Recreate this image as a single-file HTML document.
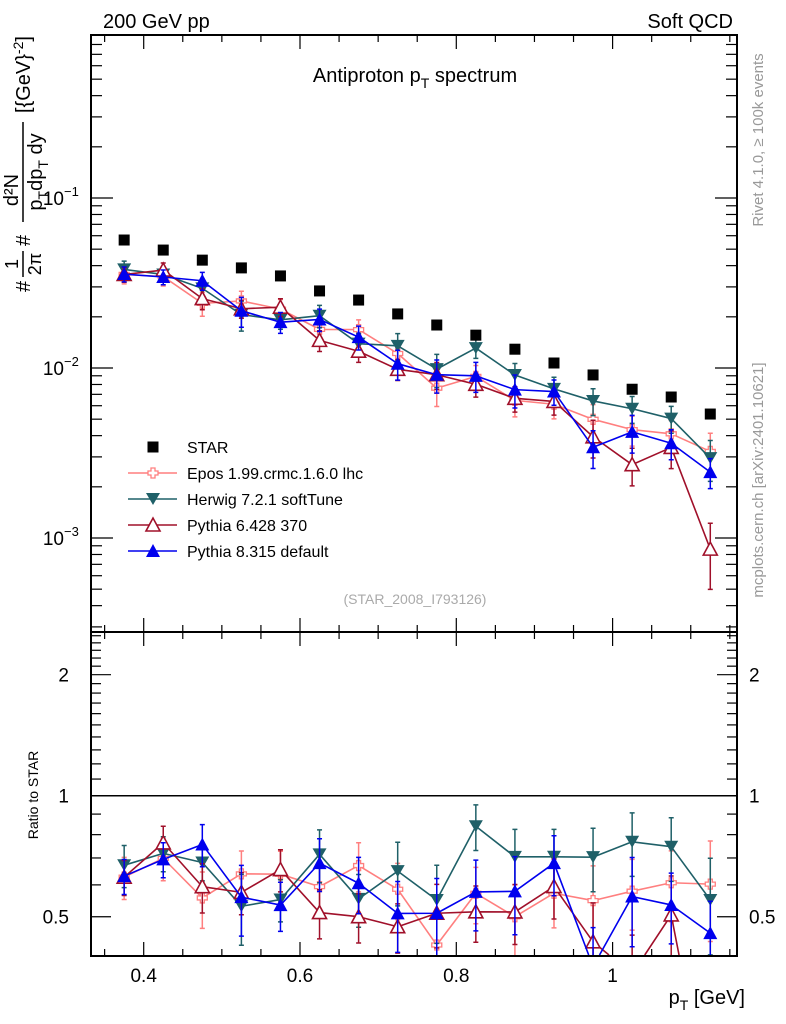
<!DOCTYPE html>
<html><head><meta charset="utf-8"><style>
html,body{margin:0;padding:0;background:#fff;width:786px;height:1024px;overflow:hidden;}
svg{display:block;font-family:"Liberation Sans",sans-serif;}
</style></head><body>
<svg id="chart" width="786" height="1024" viewBox="0 0 786 1024">
<defs>
<clipPath id="clipTop"><rect x="91" y="35" width="646" height="597"/></clipPath>
<clipPath id="clipBot"><rect x="91" y="632" width="646" height="324"/></clipPath>
</defs>
<text x="103" y="28" font-size="20">200 GeV pp</text>
<text x="733" y="28" font-size="20" text-anchor="end">Soft QCD</text>
<text x="415" y="82" font-size="20" text-anchor="middle">Antiproton p<tspan font-size="14" dy="6">T</tspan><tspan dy="-6"> spectrum</tspan></text>
<text transform="translate(763,140) rotate(-90)" font-size="15" fill="#999" text-anchor="middle">Rivet 4.1.0, ≥ 100k events</text>
<text transform="translate(763,480) rotate(-90)" font-size="15" fill="#999" text-anchor="middle">mcplots.cern.ch [arXiv:2401.10621]</text>
<text x="415" y="604" font-size="14" fill="#aaa" text-anchor="middle">(STAR_2008_I793126)</text>
<g font-size="20">
<text transform="translate(30,292) rotate(-90)">#</text>
<text transform="translate(18,264) rotate(-90)" font-size="18" text-anchor="middle">1</text>
<line x1="23" y1="251" x2="23" y2="277" stroke="#000" stroke-width="1.5"/>
<text transform="translate(41,264) rotate(-90)" font-size="18" text-anchor="middle">2π</text>
<text transform="translate(30,246) rotate(-90)">#</text>
<line x1="23" y1="122" x2="23" y2="222" stroke="#000" stroke-width="1.5"/>
<text transform="translate(18,190) rotate(-90)" text-anchor="middle">d²N</text>
<text transform="translate(42,172) rotate(-90)" text-anchor="middle">p<tspan font-size="14" dy="6">T</tspan><tspan dy="-6">dp</tspan><tspan font-size="14" dy="6">T</tspan><tspan dy="-6"> dy</tspan></text>
<text transform="translate(30,113) rotate(-90)">[{GeV}<tspan font-size="14" dy="-7">-2</tspan><tspan dy="7">]</tspan></text>
</g>
<text transform="translate(38,795) rotate(-90)" font-size="14" text-anchor="middle">Ratio to STAR</text>
<text x="745" y="1004" font-size="20" text-anchor="end">p<tspan font-size="14" dy="6">T</tspan><tspan dy="-6"> [GeV]</tspan></text>
<g id="top-marks" clip-path="url(#clipTop)"></g>
<g id="bot-marks" clip-path="url(#clipBot)"></g>
<g id="axes"></g>
<g id="legend"></g>
</svg>
<script>
const ptBins = [0.375,0.425,0.475,0.525,0.575,0.625,0.675,0.725,0.775,0.825,0.875,0.925,0.975,1.025,1.075,1.125];
const starValues = [0.0566,0.0494,0.0431,0.0388,0.0348,0.0284,0.0251,0.0208,0.0179,0.0156,0.0129,0.0107,0.0091,0.0075,0.00675,0.00536];
const eposValues = [0.0355,0.0345,0.0240,0.0248,0.0222,0.01687,0.01682,0.01217,0.00761,0.00892,0.00645,0.00612,0.00499,0.00434,0.0041,0.00323];
const herwigValues = [0.0380,0.0355,0.0294,0.0206,0.0192,0.0203,0.0139,0.0135,0.00985,0.0131,0.00909,0.00754,0.0064,0.00576,0.00504,0.00295];
const pythia6Values = [0.0355,0.0377,0.0256,0.0223,0.0228,0.01454,0.01255,0.00982,0.00913,0.00802,0.00663,0.00636,0.00394,0.0027,0.00341,0.00086];
const pythia8Values = [0.0357,0.0343,0.0326,0.0217,0.0186,0.0193,0.0152,0.0106,0.00913,0.00899,0.00746,0.00727,0.00342,0.00421,0.00361,0.00244];
const eposRelErr = [0.12,0.12,0.16,0.14,0.14,0.12,0.14,0.16,0.22,0.16,0.2,0.18,0.22,0.2,0.2,0.28];
const herwigRelErr = [0.12,0.1,0.1,0.2,0.12,0.15,0.15,0.18,0.22,0.13,0.17,0.17,0.18,0.18,0.18,0.27];
const pythia6RelErr = [0.1,0.1,0.14,0.12,0.12,0.14,0.14,0.14,0.18,0.16,0.17,0.17,0.25,0.25,0.25,0.42];
const pythia8RelErr = [0.1,0.1,0.12,0.2,0.14,0.15,0.16,0.2,0.22,0.2,0.22,0.17,0.25,0.25,0.2,0.2];
const xTickLabels = ["0.4","0.6","0.8","1"];
const xTickValues = [0.4,0.6,0.8,1.0];
const yTopTickLabels = ["10","10","10"];
const yTopTickExps = [-1,-2,-3];
const ratioTickValues = [0.5,1,2];
const ratioTickLabels = ["0.5","1","2"];

const NS="http://www.w3.org/2000/svg";
const X0=143.7, XS=781.5;
const xs = v => X0 + (v-0.4)*XS;
const yTop = v => 198 - (Math.log10(v)+1)*170;
const yRat = r => 795.7 - Math.log10(r)*402;
function mk(tag, attrs, parent){const e=document.createElementNS(NS,tag);for(const k in attrs)e.setAttribute(k,attrs[k]);parent.appendChild(e);return e;}
const topG=document.getElementById('top-marks'), botG=document.getElementById('bot-marks'), axes=document.getElementById('axes'), leg=document.getElementById('legend');

let f1=mk('rect',{x:91,y:35,width:646,height:597,fill:'none',stroke:'#000','stroke-width':2},axes);


let f2=mk('rect',{x:91,y:632,width:646,height:324,fill:'none',stroke:'#000','stroke-width':2},axes);


let one=mk('line',{x1:91,x2:737,y1:yRat(1),y2:yRat(1),stroke:'#000','stroke-width':1.5},axes);



for(let v=0.35;v<=1.16;v+=0.05){
  const vv=Math.round(v*100)/100; const x=xs(vv); if(x<92||x>736)continue;
  const major=Math.abs(vv*10-Math.round(vv*10))<1e-6 && Math.round(vv*10)%2===0;
  const L=major?14:7;
  [[35,1],[632,1],[632,-1],[956,-1]].forEach(([y,d])=>{mk('line',{x1:x,x2:x,y1:y,y2:y+d*L,stroke:'#000','stroke-width':1.2},axes);});
}
xTickValues.forEach((v,i)=>{const t=mk('text',{x:xs(v),y:982,'font-size':19,'text-anchor':'middle'},axes);t.textContent=xTickLabels[i];

});

for(let d=-4;d<=0;d++){for(let k=1;k<=9;k++){const v=k*Math.pow(10,d);const y=yTop(v);if(y<36||y>631)continue;
 const L=k===1?22:11;
 mk('line',{x1:91,x2:91+L,y1:y,y2:y,stroke:'#000','stroke-width':1.2},axes);
 mk('line',{x1:737,x2:737-L,y1:y,y2:y,stroke:'#000','stroke-width':1.2},axes);}}
yTopTickExps.forEach((e,i)=>{const y=yTop(Math.pow(10,e));
 const t=mk('text',{x:64,y:y+7,'font-size':19,'text-anchor':'end'},axes);t.textContent=yTopTickLabels[i];
 
 
 const s=mk('text',{x:64,y:y-2,'font-size':13},axes);s.textContent='−'+(-e);
 
 });

const rt=[];for(let r=0.4;r<1;r+=0.1)rt.push(r);for(let r=1;r<2.6;r+=0.1)rt.push(r);
rt.forEach(r=>{const y=yRat(r);if(y<633||y>955)return;const major=ratioTickValues.some(m=>Math.abs(m-r)<1e-6);const L=major?20:10;
 mk('line',{x1:91,x2:91+L,y1:y,y2:y,stroke:'#000','stroke-width':1.2},axes);
 mk('line',{x1:737,x2:737-L,y1:y,y2:y,stroke:'#000','stroke-width':1.2},axes);});
ratioTickValues.forEach((r,i)=>{const y=yRat(r);
 const t=mk('text',{x:69,y:y+7,'font-size':19,'text-anchor':'end'},axes);t.textContent=ratioTickLabels[i];
 
 
 const t2=mk('text',{x:749,y:y+7,'font-size':19},axes);t2.textContent=ratioTickLabels[i];
 
 });

function marker(kind,color,x,y,parent){
 let e;
 if(kind==='square'){e=mk('rect',{x:x-5.5,y:y-5.5,width:11,height:11,fill:color},parent);}
 else if(kind==='cross'){e=mk('path',{d:`M${x-2},${y-5}h4v3h3v4h-3v3h-4v-3h-3v-4h3z`,fill:'#fff',stroke:color,'stroke-width':1.3},parent);}
 else if(kind==='down'){e=mk('path',{d:`M${x-7},${y-6}L${x+7},${y-6}L${x},${y+6}Z`,fill:color},parent);}
 else if(kind==='upopen'){e=mk('path',{d:`M${x-7},${y+6}L${x+7},${y+6}L${x},${y-7}Z`,fill:'#fff',stroke:color,'stroke-width':1.6},parent);}
 else {e=mk('path',{d:`M${x-7},${y+6}L${x+7},${y+6}L${x},${y-7}Z`,fill:color},parent);}
 return e;
}
// clip a polyline to a y-range, returning path data
function clipPath(pts,ymin,ymax){
 let d='';
 for(let i=0;i<pts.length-1;i++){
  let [x1,y1]=pts[i],[x2,y2]=pts[i+1];
  let t0=0,t1=1;const dy=y2-y1;
  if(dy===0){if(y1<ymin||y1>ymax)continue;}
  else{
   let ta=(ymin-y1)/dy,tb=(ymax-y1)/dy;if(ta>tb)[ta,tb]=[tb,ta];
   t0=Math.max(0,ta);t1=Math.min(1,tb);if(t0>t1)continue;
  }
  const ax=x1+(x2-x1)*t0,ay=y1+dy*t0,bx=x1+(x2-x1)*t1,by=y1+dy*t1;
  d+=`M${ax},${ay}L${bx},${by}`;
 }
 return d;
}
const series=[
 {name:'epos',label:'Epos 1.99.crmc.1.6.0 lhc',vals:eposValues,err:eposRelErr,color:'#ff7f7f',kind:'cross'},
 {name:'herwig',label:'Herwig 7.2.1 softTune',vals:herwigValues,err:herwigRelErr,color:'#1f6068',kind:'down'},
 {name:'pythia6',label:'Pythia 6.428 370',vals:pythia6Values,err:pythia6RelErr,color:'#a0102a',kind:'upopen'},
 {name:'pythia8',label:'Pythia 8.315 default',vals:pythia8Values,err:pythia8RelErr,color:'#0000ee',kind:'up'}];

series.forEach(s=>{
 [[topG,(i)=>s.vals[i],yTop,36,631],[botG,(i)=>s.vals[i]/starValues[i],yRat,633,955]].forEach(([g,val,ys,ymin,ymax])=>{
  const pts=ptBins.map((p,i)=>[xs(p),ys(val(i))]);
  const pl=mk('path',{d:clipPath(pts,ymin,ymax),fill:'none',stroke:s.color,'stroke-width':1.6,'stroke-linejoin':'round'},g);
  
  
  ptBins.forEach((p,i)=>{const v=val(i),x=xs(p);
   const r1=ys(v*(1+s.err[i])),r2=ys(v*(1-s.err[i]));
   const y1=Math.max(ymin,Math.min(ymax,r1)),y2=Math.max(ymin,Math.min(ymax,r2));
   if(y1!==y2){
    let dd=`M${x},${y1}V${y2}`;
    if(r1>=ymin)dd+=`M${x-2.5},${y1}h5`;
    if(r2<=ymax)dd+=`M${x-2.5},${y2}h5`;
    const eb=mk('path',{d:dd,stroke:s.color,'stroke-width':1.5,fill:'none'},g);
    
    
   }
   const yc=ys(v);
   if(yc>=ymin-2&&yc<=ymax+2){
    const m=marker(s.kind,s.color,x,yc,g);
    
    
   }});
 });
});
ptBins.forEach((p,i)=>{const m=marker('square','#000',xs(p),yTop(starValues[i]),topG);
 
 });

const lm=marker('square','#000',153,447,leg);


let lt=mk('text',{x:187,y:453,'font-size':16},leg);lt.textContent='STAR';


series.forEach((s,i)=>{const y=473+i*26;
 const l=mk('line',{x1:128,x2:177,y1:y,y2:y,stroke:s.color,'stroke-width':1.6},leg);
 
 
 const m=marker(s.kind,s.color,153,y,leg);
 
 
 const t=mk('text',{x:187,y:y+6,'font-size':16},leg);t.textContent=s.label;
 
 });
</script>
</body></html>
